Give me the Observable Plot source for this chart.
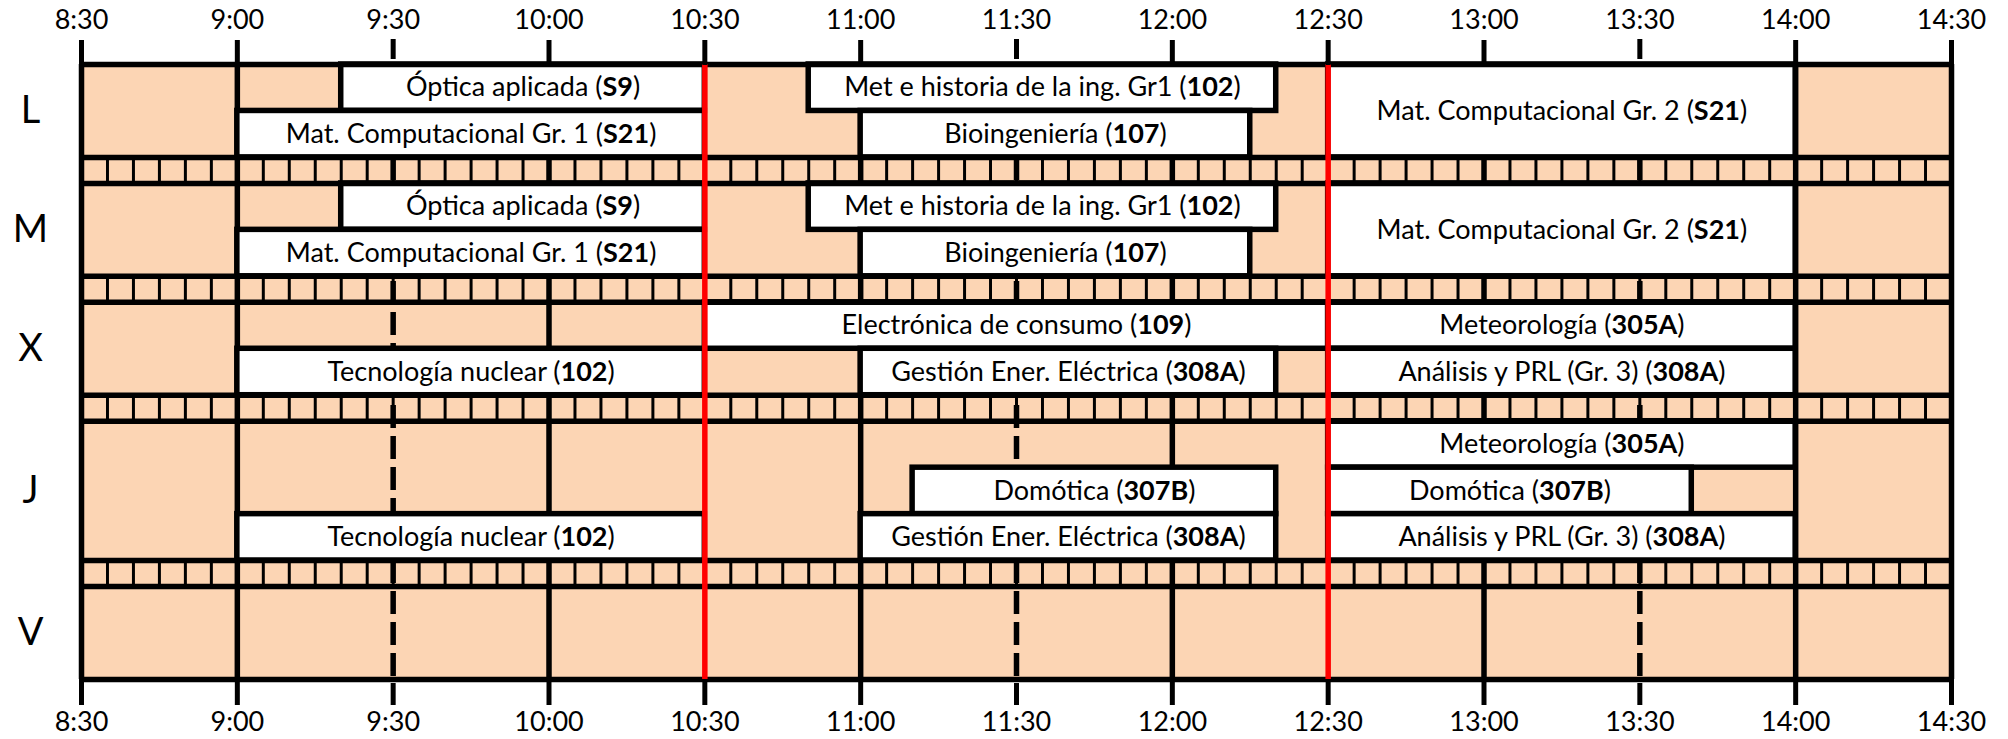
<!DOCTYPE html>
<html>
<head>
<meta charset="utf-8">
<script src="https://cdn.jsdelivr.net/npm/d3@7"></script>
<script src="https://cdn.jsdelivr.net/npm/@observablehq/plot@0.6"></script>
<style>
  html, body { margin: 0; padding: 0; background: #fff; }
  #chart svg { display: block; }
</style>
</head>
<body>
<div id="chart"></div>
<script>
// ---------- data ----------
const tickLabels = ["8:30","9:00","9:30","10:00","10:30","11:00","11:30","12:00","12:30","13:00","13:30","14:00","14:30"];
const breakTimes = ["10:30","12:30"];
const days      = ["L","M","X","J","V"];
const dayLanes  = [2, 2, 2, 3, 2];

const courseDay   = ["L","L","L","L","L", "M","M","M","M","M", "X","X","X","X","X", "J","J","J","J","J","J"];
const courseLane  = [0,1,0,1,0, 0,1,0,1,0, 0,0,1,1,1, 0,1,1,2,2,2];
const courseSpan  = [1,1,1,1,2, 1,1,1,1,2, 1,1,1,1,1, 1,1,1,1,1,1];
const courseStart = ["9:20","9:00","10:50","11:00","12:30", "9:20","9:00","10:50","11:00","12:30",
                     "10:30","12:30","9:00","11:00","12:30", "12:30","11:10","12:30","9:00","11:00","12:30"];
const courseEnd   = ["10:30","10:30","12:20","12:15","14:00", "10:30","10:30","12:20","12:15","14:00",
                     "12:30","14:00","10:30","12:20","14:00", "14:00","12:20","13:40","10:30","12:20","14:00"];
const courseName  = ["Óptica aplicada","Mat. Computacional Gr. 1","Met e historia de la ing. Gr1","Bioingeniería","Mat. Computacional Gr. 2",
                     "Óptica aplicada","Mat. Computacional Gr. 1","Met e historia de la ing. Gr1","Bioingeniería","Mat. Computacional Gr. 2",
                     "Electrónica de consumo","Meteorología","Tecnología nuclear","Gestión Ener. Eléctrica","Análisis y PRL (Gr. 3)",
                     "Meteorología","Domótica","Domótica","Tecnología nuclear","Gestión Ener. Eléctrica","Análisis y PRL (Gr. 3)"];
const courseRoom  = ["S9","S21","102","107","S21", "S9","S21","102","107","S21",
                     "109","305A","102","308A","308A", "305A","307B","307B","102","308A","308A"];

// ---------- helpers / layout ----------
const toMin = s => { const [h, m] = s.split(":").map(Number); return h * 60 + m; };
const fmt = m => `${Math.floor(m / 60)}:${String(m % 60).padStart(2, "0")}`;
const PEACH = "#FCD5B4";
const STRIP = 0.56;          // height of the separator strip, in lane units
const LW = 5.5;              // thick line width
const FONT = "Lato, 'Open Sans', sans-serif";

const ticks = tickLabels.map(toMin);
const xDomain = [ticks[0], ticks[ticks.length - 1]];
const breaks = breakTimes.map(toMin);
const hourLines = ticks.filter(t => t % 60 === 0);
const halfLines = ticks.filter(t => t % 60 === 30 && t > xDomain[0] && t < xDomain[1] && !breaks.includes(t));
const solidTicks = ticks.filter(t => !halfLines.includes(t));

let acc = 0;
const dayTop = {};
days.forEach((d, i) => { dayTop[d] = acc; acc += dayLanes[i] + STRIP; });
const total = acc - STRIP;

const dayRows = days.map((d, i) => ({day: d, top: dayTop[d], bottom: dayTop[d] + dayLanes[i]}));
const borders = dayRows.flatMap(r => [r.top, r.bottom]);
const strips = dayRows.slice(0, -1).map((r, i) => ({y1: r.bottom, y2: dayRows[i + 1].top}));
const stripMinutes = d3.range(xDomain[0] + 5, xDomain[1], 5);
const stripLines = strips.flatMap(s => stripMinutes.map(m => ({x: m, y1: s.y1, y2: s.y2})));

const courses = courseName.map((name, i) => {
  const top = dayTop[courseDay[i]] + courseLane[i];
  return {name, room: courseRoom[i], x1: toMin(courseStart[i]), x2: toMin(courseEnd[i]),
          y1: top, y2: top + courseSpan[i]};
});

// ---------- chart ----------
const chart = Plot.plot({
  width: 2008,
  height: 739,
  marginLeft: 81,
  marginRight: 57,
  marginTop: 64,
  marginBottom: 60,
  style: {fontFamily: FONT, fontSize: "27px", color: "#000", background: "#fff"},
  x: {domain: xDomain},
  y: {domain: [0, total], reverse: true, axis: null},
  marks: [
    Plot.frame({fill: PEACH, stroke: "none"}),
    Plot.ruleX(stripLines, {x: "x", y1: "y1", y2: "y2", stroke: "#000", strokeWidth: 3}),
    Plot.ruleX(hourLines, {y1: 0, y2: total, stroke: "#000", strokeWidth: LW}),
    Plot.ruleX(halfLines, {y1: 0, y2: total, stroke: "#000", strokeWidth: LW, strokeDasharray: "23,8"}),
    Plot.rect(courses, {x1: "x1", x2: "x2", y1: "y1", y2: "y2", fill: "#fff", stroke: "#000", strokeWidth: LW}),
    Plot.text(courses, {
      x: d => (d.x1 + d.x2) / 2, y: d => (d.y1 + d.y2) / 2,
      text: d => `${d.name} (${d.room})`, fontSize: 27, lineAnchor: "middle", fill: "#000"
    }),
    Plot.ruleY(borders, {x1: xDomain[0], x2: xDomain[1], stroke: "#000", strokeWidth: LW}),
    Plot.ruleX(xDomain, {y1: 0, y2: total, stroke: "#000", strokeWidth: LW}),
    Plot.ruleX(breaks, {y1: 0, y2: total, stroke: "#FF0000", strokeWidth: LW}),
    Plot.text(dayRows, {frameAnchor: "left", y: d => (d.top + d.bottom) / 2, text: "day",
      dx: -51, fontSize: 38, textAnchor: "middle", lineAnchor: "middle", fill: "#000"}),
    // top axis
    Plot.axisX(solidTicks, {anchor: "top", tickSize: 25, strokeWidth: 5, fill: "none"}),
    Plot.axisX(halfLines, {anchor: "top", tickSize: 26, strokeWidth: 5, strokeDasharray: "0,6,20,100", fill: "none"}),
    Plot.axisX(ticks, {anchor: "top", tickSize: 0, tickPadding: 36, tickFormat: fmt, fontSize: 27, fill: "#000"}),
    // bottom axis
    Plot.axisX(solidTicks, {anchor: "bottom", tickSize: 26, strokeWidth: 5, fill: "none"}),
    Plot.axisX(halfLines, {anchor: "bottom", tickSize: 26, strokeWidth: 5, strokeDasharray: "0,4,22,100", fill: "none"}),
    Plot.axisX(ticks, {anchor: "bottom", tickSize: 0, tickPadding: 32, tickFormat: fmt, fontSize: 27, fill: "#000"})
  ]
});

// bold room codes inside the course labels: "name (ROOM)" -> ROOM in bold
const NS = "http://www.w3.org/2000/svg";
chart.querySelectorAll("text").forEach(t => {
  const s = t.textContent;
  const m = s.match(/^(.*\()([^()]+)(\))$/);
  if (!m || t.children.length > 1) return;
  while (t.firstChild) t.removeChild(t.firstChild);
  [[m[1], false], [m[2], true], [m[3], false]].forEach(([str, bold]) => {
    const ts = document.createElementNS(NS, "tspan");
    ts.textContent = str;
    if (bold) {
      ts.setAttribute("font-weight", "700");
      ts.style.fontWeight = "700";
    }
    t.appendChild(ts);
  });
});

document.getElementById("chart").appendChild(chart);
</script>
</body>
</html>
